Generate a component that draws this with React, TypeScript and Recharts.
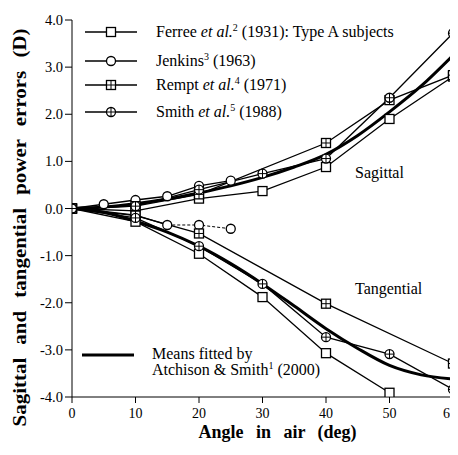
import React from "react";
import { LineChart, Line, XAxis, YAxis } from "recharts";

const angles = [0, 10, 20, 30, 40, 50, 60];
const ferreeSag = [0, -0.05, 0.21, 0.37, 0.88, 1.9, 2.8];
const ferreeTan = [0, -0.28, -0.96, -1.88, -3.07, -3.91, null];
const remptSag = [0, 0.05, 0.3, null, 1.39, 2.3, 2.83];
const remptTan = [0, -0.15, -0.53, null, -2.02, null, -3.29];
const smithSag = [0, 0.05, 0.4, 0.74, 1.06, 2.35, 3.72];
const smithTan = [0, -0.2, -0.8, -1.6, -2.73, -3.09, -3.84];

const jenkinsAngles = [0, 5, 10, 15, 20, 25];
const jenkinsSag = [0, 0.09, 0.18, 0.26, 0.48, 0.59];
const jenkinsTanSolid = [0, -0.06, -0.14, -0.35, null, null];
const jenkinsTanDashed = [null, null, null, -0.35, -0.35, -0.43];

const meanAngles = [0, 5, 10, 15, 20, 25, 30, 35, 40, 45, 50, 55, 60];
const meanSag = [0, 0.03, 0.1, 0.2, 0.33, 0.48, 0.66, 0.88, 1.15, 1.55, 2.05, 2.6, 3.25];
const meanTan = [0, -0.08, -0.27, -0.5, -0.8, -1.17, -1.6, -2.07, -2.55, -2.97, -3.33, -3.53, -3.62];

const xTicks = [0, 10, 20, 30, 40, 50, 60];
const yTicks = [-4, -3, -2, -1, 0, 1, 2, 3, 4];

const toData = (xs: number[], ys: (number | null)[]) => xs.map((x, i) => ({ x, y: ys[i] }));

const FONT = '"Liberation Serif", "Times New Roman", serif';
const SW = 1.3;

type Kind = "square" | "circle" | "squarePlus" | "circlePlus";

const Marker = ({ cx, cy, kind }: { cx: number; cy: number; kind: Kind }) => {
  const s = 4.5;
  if (kind === "square" || kind === "squarePlus") {
    return (
      <g>
        <rect x={cx - s} y={cy - s} width={2 * s} height={2 * s} fill="#fff" stroke="#000" strokeWidth={SW} />
        {kind === "squarePlus" && (
          <path d={`M${cx - s},${cy}H${cx + s}M${cx},${cy - s}V${cy + s}`} stroke="#000" strokeWidth={1} />
        )}
      </g>
    );
  }
  return (
    <g>
      <circle cx={cx} cy={cy} r={s} fill="#fff" stroke="#000" strokeWidth={SW} />
      {kind === "circlePlus" && (
        <path d={`M${cx - s},${cy}H${cx + s}M${cx},${cy - s}V${cy + s}`} stroke="#000" strokeWidth={1} />
      )}
    </g>
  );
};

const dotFor = (kind: Kind) => (props: any) => {
  const { cx, cy, value, index } = props;
  if (value == null || cx == null || cy == null || isNaN(cx) || isNaN(cy)) return <g key={`e-${index}`} />;
  return (
    <g key={`${kind}-${index}`}>
      <Marker cx={cx} cy={cy} kind={kind} />
    </g>
  );
};

const XTick = (props: any) => {
  const { x, y, payload } = props;
  return (
    <text x={x} y={y + 15} textAnchor="middle" fill="#000" fontSize={14} fontFamily={FONT}>
      {payload.value}
    </text>
  );
};

const YTick = (props: any) => {
  const { x, y, payload } = props;
  return (
    <text x={x} y={y + 5} textAnchor="end" fill="#000" fontSize={14.5} fontFamily={FONT}>
      {Number(payload.value).toFixed(1)}
    </text>
  );
};

const YTitle = (props: any) => {
  const vb = props.viewBox || { x: 0, y: 0, height: 0 };
  const cx = 18;
  const cy = vb.y + vb.height / 2 + 19;
  return (
    <text
      x={cx}
      y={cy}
      transform={`rotate(-90 ${cx} ${cy})`}
      textAnchor="middle"
      fill="#000"
      fontSize={18.5}
      fontWeight="bold"
      fontFamily={FONT}
      textLength={398}
      lengthAdjust="spacingAndGlyphs"
      style={{ wordSpacing: "7px" }}
    >
      Sagittal and tangential power errors (D)
    </text>
  );
};

const XTitle = (props: any) => {
  const vb = props.viewBox || { x: 0, y: 0, width: 0 };
  const cx = vb.x + vb.width / 2 + 15;
  return (
    <text
      x={cx}
      y={430}
      textAnchor="middle"
      fill="#000"
      fontSize={18}
      fontWeight="bold"
      fontFamily={FONT}
      style={{ wordSpacing: "8px" }}
    >
      Angle in air (deg)
    </text>
  );
};

const LegendIcon = ({ kind, thick }: { kind?: Kind; thick?: boolean }) => (
  <svg width={56} height={14} style={{ display: "block" }}>
    <line x1={2} y1={7} x2={54} y2={7} stroke="#000" strokeWidth={thick ? 3 : SW} />
    {kind && <Marker cx={28} cy={7} kind={kind} />}
  </svg>
);

const sup = { fontSize: 10, lineHeight: 0 } as const;

const legendRows: { kind: Kind; y: number; label: React.ReactNode }[] = [
  {
    kind: "square",
    y: 32,
    label: (
      <>
        Ferree <i>et al.</i>
        <sup style={sup}>2</sup> (1931): Type A subjects
      </>
    ),
  },
  {
    kind: "circle",
    y: 61,
    label: (
      <>
        Jenkins<sup style={sup}>3</sup> (1963)
      </>
    ),
  },
  {
    kind: "squarePlus",
    y: 85,
    label: (
      <>
        Rempt <i>et al.</i>
        <sup style={sup}>4</sup> (1971)
      </>
    ),
  },
  {
    kind: "circlePlus",
    y: 112,
    label: (
      <>
        Smith <i>et al.</i>
        <sup style={sup}>5</sup> (1988)
      </>
    ),
  },
];

export default function App() {
  const W = 450;
  const H = 447;
  return (
    <div style={{ position: "relative", width: W, height: H, fontFamily: FONT }}>
      <LineChart width={W} height={H} margin={{ top: 12, right: 5, left: 0, bottom: 0 }} style={{ fontFamily: FONT }}>
        <XAxis
          xAxisId="b"
          type="number"
          dataKey="x"
          domain={[0, 60]}
          ticks={xTicks}
          allowDataOverflow
          height={58}
          tickSize={6}
          tickMargin={0}
          stroke="#000"
          tick={<XTick />}
          label={<XTitle />}
        />
        <XAxis
          xAxisId="t"
          orientation="top"
          type="number"
          domain={[0, 60]}
          ticks={xTicks}
          height={0}
          mirror
          tickSize={6}
          stroke="#000"
          tickFormatter={() => ""}
        />
        <YAxis
          yAxisId="l"
          type="number"
          domain={[-4, 4]}
          ticks={yTicks}
          allowDataOverflow
          width={64}
          tickSize={7}
          tickMargin={2}
          stroke="#000"
          tick={<YTick />}
          label={<YTitle />}
        />
        <YAxis
          yAxisId="r"
          orientation="right"
          type="number"
          domain={[-4, 4]}
          ticks={yTicks}
          width={0}
          mirror
          tickSize={6}
          stroke="#000"
          tickFormatter={() => ""}
        />

        <Line xAxisId="b" yAxisId="l" data={toData(meanAngles, meanSag)} dataKey="y" type="monotone" stroke="#000" strokeWidth={3} dot={false} isAnimationActive={false} />
        <Line xAxisId="b" yAxisId="l" data={toData(meanAngles, meanTan)} dataKey="y" type="monotone" stroke="#000" strokeWidth={3} dot={false} isAnimationActive={false} />

        <Line xAxisId="b" yAxisId="l" data={toData(angles, ferreeSag)} dataKey="y" type="linear" connectNulls stroke="#000" strokeWidth={SW} dot={dotFor("square")} isAnimationActive={false} />
        <Line xAxisId="b" yAxisId="l" data={toData(angles, ferreeTan)} dataKey="y" type="linear" connectNulls stroke="#000" strokeWidth={SW} dot={dotFor("square")} isAnimationActive={false} />

        <Line xAxisId="b" yAxisId="l" data={toData(jenkinsAngles, jenkinsTanSolid)} dataKey="y" type="linear" stroke="#000" strokeWidth={SW} dot={false} isAnimationActive={false} />
        <Line xAxisId="b" yAxisId="l" data={toData(jenkinsAngles, jenkinsTanDashed)} dataKey="y" type="linear" stroke="#000" strokeWidth={1} strokeDasharray="3 2" dot={dotFor("circle")} isAnimationActive={false} />
        <Line xAxisId="b" yAxisId="l" data={toData(jenkinsAngles, jenkinsSag)} dataKey="y" type="linear" stroke="#000" strokeWidth={SW} dot={dotFor("circle")} isAnimationActive={false} />

        <Line xAxisId="b" yAxisId="l" data={toData(angles, remptSag)} dataKey="y" type="linear" connectNulls stroke="#000" strokeWidth={SW} dot={dotFor("squarePlus")} isAnimationActive={false} />
        <Line xAxisId="b" yAxisId="l" data={toData(angles, remptTan)} dataKey="y" type="linear" connectNulls stroke="#000" strokeWidth={SW} dot={dotFor("squarePlus")} isAnimationActive={false} />

        <Line xAxisId="b" yAxisId="l" data={toData(angles, smithSag)} dataKey="y" type="linear" stroke="#000" strokeWidth={SW} dot={dotFor("circlePlus")} isAnimationActive={false} />
        <Line xAxisId="b" yAxisId="l" data={toData(angles, smithTan)} dataKey="y" type="linear" stroke="#000" strokeWidth={SW} dot={dotFor("circlePlus")} isAnimationActive={false} />
      </LineChart>

      {legendRows.map((r) => (
        <div
          key={r.y}
          style={{
            position: "absolute",
            left: 85 - 8 - 2,
            top: r.y - 8 - 9,
            height: 18,
            display: "flex",
            alignItems: "center",
            fontSize: 16,
            whiteSpace: "nowrap",
            background: "#fff",
            lineHeight: "18px",
          }}
        >
          <LegendIcon kind={r.kind} />
          <span style={{ marginLeft: 17 }}>{r.label}</span>
        </div>
      ))}

      <div
        style={{
          position: "absolute",
          left: 82 - 8 - 2,
          top: 346 - 8,
          display: "flex",
          alignItems: "flex-start",
          fontSize: 16,
          whiteSpace: "nowrap",
          lineHeight: "16px",
        }}
      >
        <div style={{ marginTop: 2 }}>
          <LegendIcon thick />
        </div>
        <div style={{ marginLeft: 16 }}>
          Means fitted by
          <br />
          Atchison &amp; Smith<sup style={sup}>1</sup> (2000)
        </div>
      </div>

      <div style={{ position: "absolute", left: 355 - 8, top: 164 - 8, fontSize: 16 }}>Sagittal</div>
      <div style={{ position: "absolute", left: 355 - 8, top: 280 - 8, fontSize: 16 }}>Tangential</div>
    </div>
  );
}
